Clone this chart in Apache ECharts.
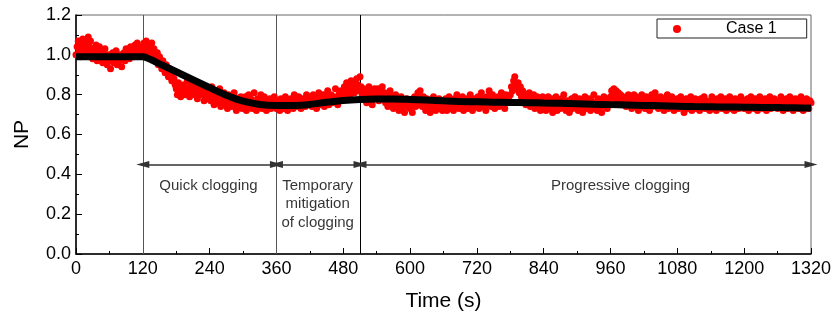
<!DOCTYPE html>
<html>
<head>
<meta charset="utf-8">
<script src="https://cdn.jsdelivr.net/npm/echarts@6/dist/echarts.min.js"></script>
<style>
html,body{margin:0;padding:0;background:#fff;}
#chart{width:838px;height:324px;}
</style>
</head>
<body>
<div id="chart"></div>
<script>
// ---- data ----
const sampleStep = 2;    // seconds between plotted samples
const rowSpan = 60;      // seconds covered by each row below
const npRows = [
  [1.00,1.04,1.07,1.02,0.99,1.05,1.08,1.03,1.00,1.06,1.02,1.09,1.04,1.07,1.01,0.98,1.03,1.00,1.05,0.97,1.01,1.04,0.99,1.02,0.96,1.00,1.03,0.98,0.95,1.00],
  [0.97,0.93,0.99,1.01,0.96,0.98,1.02,0.95,0.99,0.97,1.00,0.94,0.98,1.01,0.97,1.03,0.99,1.02,0.98,1.04,1.00,1.03,0.99,1.05,1.01,1.06,1.02,1.00,1.04,1.01],
  [1.03,1.06,1.01,1.07,1.04,1.00,1.05,1.02,1.06,0.99,1.03,1.00,0.97,1.01,0.95,0.99,0.96,0.93,0.97,0.94,0.91,0.95,0.92,0.89,0.93,0.90,0.87,0.91,0.88,0.85],
  [0.83,0.80,0.86,0.82,0.79,0.84,0.81,0.85,0.80,0.83,0.87,0.82,0.79,0.85,0.81,0.84,0.86,0.80,0.83,0.78,0.82,0.85,0.80,0.84,0.81,0.77,0.83,0.79,0.82,0.78],
  [0.81,0.77,0.84,0.79,0.75,0.82,0.78,0.80,0.76,0.83,0.74,0.79,0.77,0.81,0.75,0.78,0.73,0.80,0.76,0.79,0.74,0.77,0.81,0.75,0.72,0.78,0.76,0.74,0.79,0.73],
  [0.77,0.74,0.79,0.72,0.76,0.80,0.74,0.78,0.73,0.76,0.81,0.75,0.72,0.78,0.74,0.77,0.80,0.73,0.76,0.79,0.74,0.72,0.77,0.75,0.78,0.73,0.76,0.74,0.79,0.75],
  [0.73,0.77,0.75,0.72,0.78,0.74,0.76,0.73,0.79,0.75,0.72,0.77,0.74,0.78,0.76,0.73,0.80,0.75,0.77,0.74,0.79,0.76,0.73,0.78,0.75,0.77,0.74,0.80,0.76,0.78],
  [0.75,0.78,0.74,0.80,0.76,0.79,0.73,0.77,0.81,0.75,0.78,0.76,0.80,0.74,0.79,0.77,0.82,0.75,0.78,0.80,0.76,0.79,0.77,0.83,0.78,0.75,0.80,0.77,0.82,0.79],
  [0.81,0.84,0.79,0.86,0.82,0.85,0.80,0.87,0.83,0.86,0.81,0.84,0.88,0.85,0.82,0.89,0.84,0.80,0.83,0.78,0.82,0.76,0.80,0.84,0.77,0.81,0.75,0.79,0.83,0.78],
  [0.80,0.83,0.77,0.82,0.79,0.84,0.78,0.81,0.76,0.80,0.74,0.78,0.82,0.75,0.79,0.73,0.77,0.80,0.74,0.78,0.72,0.76,0.79,0.73,0.77,0.71,0.75,0.78,0.74,0.76],
  [0.73,0.77,0.71,0.75,0.79,0.74,0.77,0.81,0.75,0.82,0.78,0.74,0.79,0.76,0.72,0.78,0.74,0.77,0.71,0.76,0.73,0.79,0.75,0.72,0.77,0.74,0.78,0.73,0.76,0.72],
  [0.77,0.74,0.78,0.72,0.76,0.79,0.73,0.77,0.75,0.72,0.78,0.74,0.80,0.76,0.73,0.77,0.75,0.79,0.72,0.76,0.74,0.78,0.73,0.77,0.80,0.75,0.72,0.78,0.74,0.77],
  [0.75,0.79,0.73,0.77,0.81,0.74,0.78,0.76,0.72,0.79,0.75,0.82,0.77,0.74,0.80,0.76,0.73,0.78,0.75,0.79,0.74,0.77,0.81,0.75,0.78,0.73,0.80,0.76,0.79,0.77],
  [0.80,0.84,0.82,0.87,0.89,0.85,0.83,0.86,0.81,0.84,0.79,0.82,0.77,0.80,0.75,0.79,0.76,0.81,0.74,0.78,0.76,0.80,0.73,0.77,0.79,0.74,0.78,0.72,0.76,0.79],
  [0.74,0.77,0.72,0.76,0.79,0.73,0.75,0.78,0.71,0.76,0.74,0.79,0.72,0.77,0.75,0.73,0.78,0.74,0.80,0.76,0.72,0.77,0.74,0.71,0.76,0.78,0.73,0.75,0.79,0.74],
  [0.76,0.72,0.78,0.74,0.77,0.71,0.75,0.79,0.73,0.76,0.74,0.78,0.72,0.77,0.75,0.80,0.73,0.76,0.72,0.78,0.74,0.77,0.71,0.75,0.79,0.74,0.77,0.73,0.76,0.78],
  [0.79,0.82,0.80,0.83,0.78,0.82,0.79,0.81,0.77,0.80,0.75,0.79,0.76,0.78,0.74,0.77,0.80,0.75,0.78,0.73,0.77,0.80,0.74,0.79,0.76,0.72,0.78,0.75,0.80,0.74],
  [0.77,0.73,0.79,0.75,0.78,0.72,0.76,0.80,0.74,0.77,0.81,0.75,0.78,0.73,0.77,0.79,0.74,0.76,0.72,0.78,0.75,0.80,0.73,0.77,0.74,0.79,0.76,0.72,0.77,0.75],
  [0.78,0.73,0.76,0.79,0.74,0.77,0.71,0.75,0.78,0.73,0.77,0.75,0.79,0.72,0.76,0.74,0.78,0.73,0.77,0.75,0.72,0.78,0.74,0.76,0.79,0.73,0.77,0.74,0.76,0.72],
  [0.76,0.79,0.73,0.77,0.75,0.72,0.78,0.74,0.76,0.79,0.73,0.77,0.75,0.78,0.72,0.76,0.74,0.79,0.73,0.77,0.75,0.72,0.78,0.74,0.77,0.73,0.76,0.79,0.74,0.77],
  [0.73,0.77,0.75,0.78,0.72,0.76,0.79,0.74,0.77,0.73,0.78,0.75,0.72,0.76,0.79,0.74,0.77,0.73,0.75,0.78,0.72,0.76,0.74,0.79,0.73,0.77,0.75,0.78,0.74,0.76],
  [0.73,0.77,0.75,0.79,0.74,0.72,0.77,0.75,0.78,0.73,0.76,0.79,0.74,0.77,0.72,0.76,0.78,0.74,0.77,0.73,0.76,0.79,0.75,0.72,0.77,0.74,0.78,0.75,0.73,0.77],
  [0.76]
];
const trendTimes = [0,30,60,90,120,135,150,180,210,240,270,300,330,360,390,420,450,480,510,540,570,600,630,660,690,720,750,780,810,840,870,900,930,960,990,1020,1050,1080,1110,1140,1170,1200,1230,1260,1290,1320];
const trendValues = [0.99,0.99,0.99,0.99,0.99,0.975,0.955,0.915,0.875,0.835,0.797,0.767,0.751,0.746,0.746,0.751,0.762,0.771,0.776,0.778,0.778,0.776,0.773,0.769,0.766,0.764,0.762,0.761,0.760,0.758,0.757,0.755,0.752,0.750,0.748,0.746,0.744,0.742,0.740,0.739,0.738,0.737,0.736,0.735,0.734,0.733];
const phaseBounds = [120, 360, 510, 1320];
const phaseNames = ['Quick clogging', 'Temporary\nmitigation\nof clogging', 'Progressive clogging'];
const phaseLabelX = [238, 434, 978];
const phaseLabelY = 0.39;
const arrowY = 0.45;
const xTicks = {min: 0, max: 1320, interval: 120};
const yTicks = {min: 0, max: 1.2, interval: 0.2};
const seriesName = 'Case 1';

// ---- build ----
const scatterData = [];
npRows.forEach((row, r) => row.forEach((v, j) => scatterData.push([r * rowSpan + j * sampleStep, v])));
const trendData = trendTimes.map((t, i) => [t, trendValues[i]]);
const labelData = phaseNames.map((n, i) => ({value: [phaseLabelX[i], phaseLabelY], name: n}));
const vLines = phaseBounds.slice(0, 3).map((x, i) => ({
  xAxis: x,
  lineStyle: {color: i === 2 ? '#000' : '#555', width: 1, type: 'solid'}
}));
const arrows = [];
for (let i = 0; i < 3; i++) {
  arrows.push([{coord: [phaseBounds[i], arrowY]}, {coord: [phaseBounds[i + 1], arrowY]}]);
}

const FONT = 'Liberation Sans, Arial, sans-serif';
const chart = echarts.init(document.getElementById('chart'), null, {renderer: 'canvas'});
chart.setOption({
  animation: false,
  backgroundColor: '#fff',
  textStyle: {fontFamily: FONT, color: '#000'},
  grid: {left: 76, right: 27, top: 15, bottom: 70, show: true, borderColor: '#666', borderWidth: 1, backgroundColor: 'transparent'},
  legend: {
    data: [seriesName],
    left: 657, top: 19,
    orient: 'horizontal',
    itemWidth: 8, itemHeight: 8,
    padding: [2, 30, 1, 16],
    borderColor: '#222', borderWidth: 1,
    textStyle: {fontSize: 16, color: '#000', fontFamily: FONT, padding: [0, 0, 0, 40]}
  },
  xAxis: {
    type: 'value', min: xTicks.min, max: xTicks.max, interval: xTicks.interval,
    name: 'Time (s)', nameLocation: 'middle', nameGap: 37,
    nameTextStyle: {fontSize: 21, color: '#000', fontFamily: FONT},
    axisLine: {show: true, onZero: false, lineStyle: {color: '#000', width: 1.5}},
    axisTick: {show: true, inside: true, length: 6, lineStyle: {color: '#000', width: 1}},
    minorTick: {show: true, splitNumber: 2, length: 3, lineStyle: {color: '#000', width: 1}},
    axisLabel: {fontSize: 18, color: '#000', margin: 6, fontFamily: FONT, formatter: v => String(v)},
    splitLine: {show: false}
  },
  yAxis: {
    type: 'value', min: yTicks.min, max: yTicks.max, interval: yTicks.interval,
    name: 'NP', nameLocation: 'middle', nameGap: 43,
    nameTextStyle: {fontSize: 21, color: '#000', fontFamily: FONT},
    axisLine: {show: true, onZero: false, lineStyle: {color: '#000', width: 1.5}},
    axisTick: {show: true, inside: true, length: 6, lineStyle: {color: '#000', width: 1}},
    minorTick: {show: true, splitNumber: 2, length: 3, lineStyle: {color: '#000', width: 1}},
    axisLabel: {fontSize: 18, color: '#000', margin: 5, fontFamily: FONT, formatter: v => v.toFixed(1)},
    splitLine: {show: false}
  },
  series: [
    {
      name: seriesName,
      type: 'scatter',
      data: scatterData,
      symbol: 'circle',
      symbolSize: 7,
      large: false,
      itemStyle: {color: '#ff0000', opacity: 1},
      z: 2,
      markLine: {
        silent: true, symbol: 'none',
        label: {show: false},
        data: vLines,
        z: 1
      }
    },
    {
      name: 'trend',
      type: 'line',
      data: trendData,
      showSymbol: false,
      symbol: 'none',
      smooth: 0.3,
      lineStyle: {color: '#000', width: 7},
      z: 3,
      markLine: {
        silent: true,
        symbol: ['triangle', 'triangle'],
        symbolSize: [7, 13],
        label: {show: false},
        lineStyle: {color: '#333', width: 1.5, type: 'solid'},
        data: arrows
      }
    },
    {
      name: 'labels',
      type: 'scatter',
      data: labelData,
      symbolSize: 0,
      silent: true,
      label: {
        show: true, position: 'bottom', distance: 0,
        formatter: p => p.name,
        fontSize: 15, lineHeight: 18.5, color: '#000', fontFamily: FONT, align: 'center'
      },
      z: 4
    }
  ]
});
</script>
</body>
</html>
